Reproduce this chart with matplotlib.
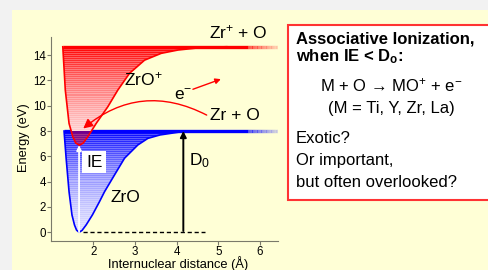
import numpy as np
import matplotlib
matplotlib.use('Agg')
import matplotlib.pyplot as plt
from matplotlib.patches import Polygon, Rectangle, FancyArrowPatch
from matplotlib.collections import LineCollection

plt.rcParams['font.family'] = ['Liberation Sans', 'DejaVu Sans']
plt.rcParams['mathtext.fontset'] = 'custom'
plt.rcParams['mathtext.rm'] = 'Liberation Sans'
plt.rcParams['mathtext.bf'] = 'Liberation Sans:bold'
plt.rcParams['mathtext.default'] = 'regular'

# potential curves (r in Angstrom, E in eV)
zro_r = [1.30, 1.35, 1.42, 1.49, 1.55, 1.60, 1.66, 1.73, 1.83, 1.98, 2.15, 2.27,
         2.51, 2.75, 3.07, 3.31, 3.60, 4.15, 4.60, 6.43]
zro_E = [8.0, 5.85, 3.2, 1.37, 0.58, 0.17, 0.0, 0.14, 0.58, 1.37, 2.42, 3.2,
         4.53, 5.85, 6.9, 7.42, 7.69, 7.96, 8.0, 8.0]
zrop_r = [1.27, 1.33, 1.42, 1.51, 1.58, 1.67, 1.76, 1.87, 2.07, 2.35, 2.59, 2.87,
          3.23, 3.63, 4.03, 4.60, 5.20, 6.43]
zrop_E = [14.66, 11.24, 8.6, 7.55, 7.05, 6.88, 7.05, 7.55, 8.6, 9.92, 11.24, 12.56,
          13.6, 14.14, 14.4, 14.6, 14.66, 14.66]
D0 = 8.0
IE = 6.88
r_eq = 1.66
r_D0 = 4.16
fade_start = 5.7

xticks = [2, 3, 4, 5, 6]
yticks = [0, 2, 4, 6, 8, 10, 12, 14]
XLIM = (0.98, 6.43)
YLIM = (-0.69, 15.43)

box_title = ['Associative Ionization,', r'when IE < D$_\mathbf{o}$:']
box_eq = [r'M + O → MO$^{+}$ + e$^{-}$', '(M = Ti, Y, Zr, La)']
box_tail = ['Exotic?', 'Or important,', 'but often overlooked?']

W, H = 489, 270
BG = '#ffffd6'
fig = plt.figure(figsize=(W / 100, H / 100), dpi=100, facecolor='#f2f2f2')
fig.patches.append(Rectangle((12 / W, 0), 1, (H - 10) / H, transform=fig.transFigure,
                             facecolor=BG, edgecolor='none', zorder=-5))

ax = fig.add_axes([50.7 / W, 1 - 241 / H, (278 - 50.7) / W, (241 - 37) / H])
ax.set_facecolor('none')


def gradient_fill(r, E, color, power, under=None, zorder=1):
    top = max(E)
    bot = min(E)
    poly = Polygon(list(zip(r, E)), closed=True, facecolor='none', edgecolor='none')
    ax.add_patch(poly)
    nrows = int((top - bot) * 12.66)
    ncols = 50
    t = np.linspace(0, 1, nrows)[:, None]
    a = 0.15 + 0.85 * t ** power
    a = a * np.where(np.arange(nrows) % 2 == 0, 0.72, 1.0)[:, None]
    a = np.broadcast_to(a, (nrows, ncols)).copy()
    col = np.array(matplotlib.colors.to_rgb(color))
    img = np.ones((nrows, ncols, 4))
    img[..., :3] = (1 - a[..., None]) + a[..., None] * col
    if under is not None:
        ev = np.linspace(bot, top, nrows)
        low = ev < under
        img[low, :, :3] = col
        img[low, :, 3] = np.maximum(a[low], 0.45)
    im = ax.imshow(img, extent=(r[0], r[-1], bot, top), origin='lower',
                   aspect='auto', interpolation='nearest', zorder=zorder)
    im.set_clip_path(poly)


def curve_line(r, E, color, zorder):
    top = E[-1]
    ax.plot(r[:-1], E[:-1], color=color, lw=1.2, zorder=zorder)
    # flat asymptote across the top, solid then fading out to the right
    ax.plot([r[0], fade_start], [top, top], color=color, lw=2.4, zorder=zorder,
            solid_capstyle='butt')
    xs = np.linspace(fade_start, r[-1], 25)
    segs = [[(xs[i], top), (xs[i + 1], top)] for i in range(len(xs) - 1)]
    c0 = np.array(matplotlib.colors.to_rgb(color))
    c1 = np.array(matplotlib.colors.to_rgb(BG))
    k = np.linspace(0.15, 0.8, len(segs))[:, None]
    cols = (1 - k) * c0 + k * c1
    ax.add_collection(LineCollection(segs, colors=cols, lw=2.4, zorder=zorder,
                                     capstyle='butt'))


gradient_fill(zro_r, zro_E, '#0000ff', 1.8, zorder=1)
curve_line(zro_r, zro_E, '#0000ff', 2)
gradient_fill(zrop_r, zrop_E, '#ff0000', 1.5, under=D0, zorder=3)
curve_line(zrop_r, zrop_E, '#ff0000', 4)

# dashed zero line, IE and D0 arrows
ax.plot([r_eq + 0.1, 4.68], [0, 0], color='black', lw=1, ls=(0, (3, 2)), zorder=5)
ax.add_patch(FancyArrowPatch((r_eq, 0), (r_eq, IE), arrowstyle='-|>', mutation_scale=7,
                             color='white', lw=1.3, shrinkA=0, shrinkB=0, zorder=6))
ax.add_patch(FancyArrowPatch((r_D0, 0.1), (r_D0, D0), arrowstyle='-|>', mutation_scale=9,
                             color='black', lw=1.4, shrinkA=0, shrinkB=0, zorder=6))
ax.add_patch(FancyArrowPatch((4.72, 9.26), (1.76, 8.2), arrowstyle='-|>', mutation_scale=14,
                             connectionstyle='arc3,rad=0.33', color='#ff0000', lw=1,
                             shrinkA=0, shrinkB=0, zorder=6))
ax.add_patch(FancyArrowPatch((4.39, 11.3), (5.06, 12.1), arrowstyle='-|>', mutation_scale=8,
                             color='#ff0000', lw=1, shrinkA=0, shrinkB=0, zorder=6))

lab = 12.5
ax.text(2.02, 5.55, 'IE', fontsize=lab, ha='center', va='center', zorder=7,
        bbox=dict(facecolor='white', edgecolor='none', pad=2.5))
ax.text(4.30, 5.63, r'D$_0$', fontsize=lab, ha='left', va='center', zorder=7)
ax.text(2.78, 2.75, 'ZrO', fontsize=lab, ha='center', va='center', zorder=7)
ax.text(3.21, 12.1, r'ZrO$^{+}$', fontsize=lab, ha='center', va='center', zorder=7)
ax.text(4.15, 10.85, r'e$^{-}$', fontsize=lab, ha='center', va='center', zorder=7)
ax.text(5.40, 9.19, 'Zr + O', fontsize=lab, ha='center', va='center', zorder=7)
ax.text(5.47, 15.78, r'Zr$^{+}$ + O', fontsize=lab, ha='center', va='center', zorder=7,
        clip_on=False)

ax.set_xlim(*XLIM)
ax.set_ylim(*YLIM)
for s in ['top', 'right']:
    ax.spines[s].set_visible(False)
for s in ['left', 'bottom']:
    ax.spines[s].set_color('#7a7a6a')
ax.tick_params(direction='out', length=3, color='#7a7a6a', labelsize=8.3, pad=0.5)
ax.set_xticks(xticks)
ax.set_yticks(yticks)
ax.set_xlabel('Internuclear distance (Å)', fontsize=9.3, va='baseline')
ax.xaxis.set_label_coords(0.56, -0.133)
ax.set_ylabel('Energy (eV)', fontsize=9.3, va='center')
ax.yaxis.set_label_coords(-0.117, 0.505)

# text box on the right
fs = 12
fig.patches.append(Rectangle((288.5 / W, 1 - 200 / H), 0.5, 175 / H, transform=fig.transFigure,
                             facecolor='white', edgecolor='#ff3333', lw=1.5, zorder=1))
fig.text(296 / W, 1 - 44 / H, box_title[0], fontsize=fs, fontweight='bold', va='baseline')
fig.text(296 / W, 1 - 61.7 / H, box_title[1], fontsize=fs, fontweight='bold', va='baseline')
fig.text(391 / W, 1 - 91.7 / H, box_eq[0], fontsize=fs, ha='center', va='baseline')
fig.text(391 / W, 1 - 113 / H, box_eq[1], fontsize=fs, ha='center', va='baseline')
for i, line in enumerate(box_tail):
    fig.text(296 / W, 1 - (143 + 21.8 * i) / H, line, fontsize=fs, va='baseline')

fig.savefig('out.png', dpi=100, facecolor=fig.get_facecolor())
